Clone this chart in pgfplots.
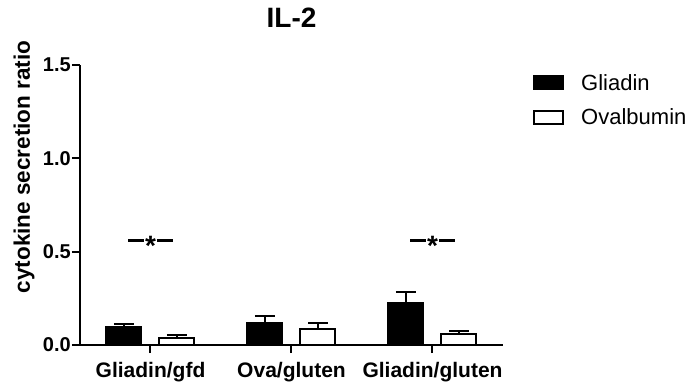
\documentclass[border=0pt]{standalone}
\usepackage{fontspec}
\setmainfont{Liberation Sans}
\usepackage{pgfplots}
\pgfplotsset{compat=1.18}
\newcommand{\sig}{\rule[-1.1pt]{16pt}{2.4pt}\hspace{1pt}\raisebox{-15.5pt}{\bfseries\fontsize{28}{28}\selectfont *}\hspace{1pt}\rule[-1.1pt]{16pt}{2.4pt}}
\begin{document}
\begin{tikzpicture}
\useasboundingbox (-80pt,-39pt) rectangle (611pt,345pt);
\begin{axis}[
  at={(0pt,0pt)}, anchor=south west,
  scale only axis, width=423pt, height=280pt,
  xmin=-0.5, xmax=2.5, ymin=0, ymax=1.5,
  axis x line*=bottom, axis y line*=left,
  axis line style={-, line width=2pt, black},
  xtick={0,1,2}, xticklabels={Gliadin/gfd,Ova/gluten,Gliadin/gluten},
  ytick={0,0.5,1,1.5},
  /pgf/number format/fixed, /pgf/number format/fixed zerofill, /pgf/number format/precision=1,
  /pgf/number format/assume math mode=true,
  tick style={line width=2pt, black},
  major tick length=8pt, tick align=outside,
  yticklabel style={font=\bfseries\fontsize{20}{22}\selectfont, inner sep=1pt},
  xticklabel style={font=\bfseries\fontsize{21}{23}\selectfont, inner sep=2pt, yshift=-7pt},
  ylabel={cytokine secretion ratio},
  ylabel style={font=\bfseries\fontsize{22.5}{25}\selectfont, at={(axis description cs:-0.132,0.636)}, anchor=center},
  title={IL-2},
  title style={font=\bfseries\fontsize{28}{32}\selectfont, at={(axis description cs:0.5,1)}, anchor=base, yshift=32pt},
  ybar, bar width=35pt,
  legend style={at={(axis description cs:1.071,0.968)}, anchor=north west, draw=none, fill=none,
     font=\fontsize{22}{24}\selectfont, inner sep=0pt, row sep=17pt,
     nodes={inner sep=0pt},
     /tikz/every odd column/.append style={column sep=17pt},
     cells={anchor=west}},
  legend image code/.code={\draw[#1, line width=2pt] (1pt,-6.5pt) rectangle (30pt,6.5pt);},
  clip=false,
]
\addplot[fill=black, draw=black, line width=2pt, bar shift=-26.5pt,
  error bars/.cd, y dir=plus, y explicit,
  error bar style={line width=2pt, black},
  error mark options={rotate=90, mark size=10pt, line width=2pt, black}]
  coordinates {(0,0.098) +- (0,0.012) (1,0.120) +- (0,0.035) (2,0.227) +- (0,0.059)};
\addlegendentry{Gliadin}
\addplot[fill=white, draw=black, line width=2pt, bar shift=26.5pt,
  error bars/.cd, y dir=plus, y explicit,
  error bar style={line width=2pt, black},
  error mark options={rotate=90, mark size=10pt, line width=2pt, black}]
  coordinates {(0,0.039) +- (0,0.015) (1,0.086) +- (0,0.030) (2,0.057) +- (0,0.018)};
\addlegendentry{Ovalbumin}
\node[anchor=base, inner sep=0pt] at (axis cs:0,0.56) {\sig};
\node[anchor=base, inner sep=0pt] at (axis cs:2,0.56) {\sig};
\end{axis}
\end{tikzpicture}
\end{document}
